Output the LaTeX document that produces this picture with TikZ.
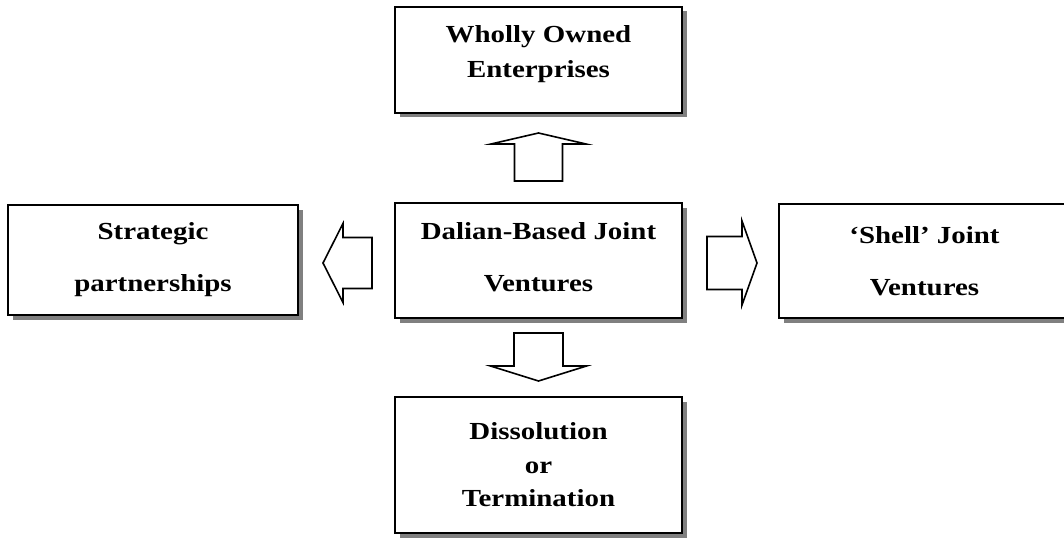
\documentclass[tikz,border=0pt]{standalone}
\usepackage{fontspec}
\setmainfont{Liberation Serif}[FakeStretch=1.18]
\usetikzlibrary{shadows,calc}
\begin{document}
\begin{tikzpicture}[x=1pt,y=-1pt,
  box/.style={draw=black, line width=1.9pt, fill=white, inner sep=0pt, align=center,
    font=\bfseries\fontsize{24.5}{52}\selectfont,
    general shadow={fill=black!50, shadow xshift=4.5pt, shadow yshift=-4.5pt}},
  barrow/.style={draw=black, line width=1.6pt, fill=white, line join=miter}]
\useasboundingbox (0,0) rectangle (1064,540);
\clip (0,0) rectangle (1064,540);
\node[box, minimum width=287pt, minimum height=106pt, font=\bfseries\fontsize{24.5}{35}\selectfont, text depth=17pt] (wo) at (538.5,60) {Wholly Owned\\Enterprises};
\node[box, minimum width=287pt, minimum height=115pt, text depth=8pt] (jv) at (538.5,260.5) {Dalian-Based Joint\\Ventures};
\node[box, minimum width=290pt, minimum height=110pt] (sp) at (153,260) {Strategic\\partnerships};
\node[box, minimum width=291pt, minimum height=114pt] (sh) at (924.5,261) {`Shell' Joint\\Ventures};
\node[box, minimum width=287pt, minimum height=136pt, font=\bfseries\fontsize{24.5}{33.5}\selectfont] (dr) at (538.5,465) {Dissolution\\or\\Termination};
% block arrows
\coordinate (ua) at ($(wo.south)!0.5!(jv.north)$);
\coordinate (dc) at ($(jv.south)!0.5!(dr.north)$);
\coordinate (lc) at ($(sp.east)!0.5!(jv.west)+(0,2.75)$);
\coordinate (rc) at ($(jv.east)!0.5!(sh.west)+(0,2.25)$);
\draw[barrow, shift={(ua)}] (-24,23) -- (-24,-14) -- (-47.5,-14) -- (0,-25) -- (47.5,-14) -- (24,-14) -- (24,23) -- cycle;
\draw[barrow, shift={(dc)}] (-24.5,-24.5) -- (-24.5,8.5) -- (-48,8.5) -- (0,23.5) -- (48,8.5) -- (24.5,8.5) -- (24.5,-24.5) -- cycle;
\draw[barrow, shift={(lc)}] (25.5,-25.5) -- (-3.5,-25.5) -- (-3.5,-39.5) -- (-23.5,0) -- (-3.5,39.5) -- (-3.5,25.5) -- (25.5,25.5) -- cycle;
\draw[barrow, shift={(rc)}] (-23.5,-26.5) -- (11.5,-26.5) -- (11.5,-42) -- (26.5,0) -- (11.5,42) -- (11.5,26.5) -- (-23.5,26.5) -- cycle;
\end{tikzpicture}
\end{document}
